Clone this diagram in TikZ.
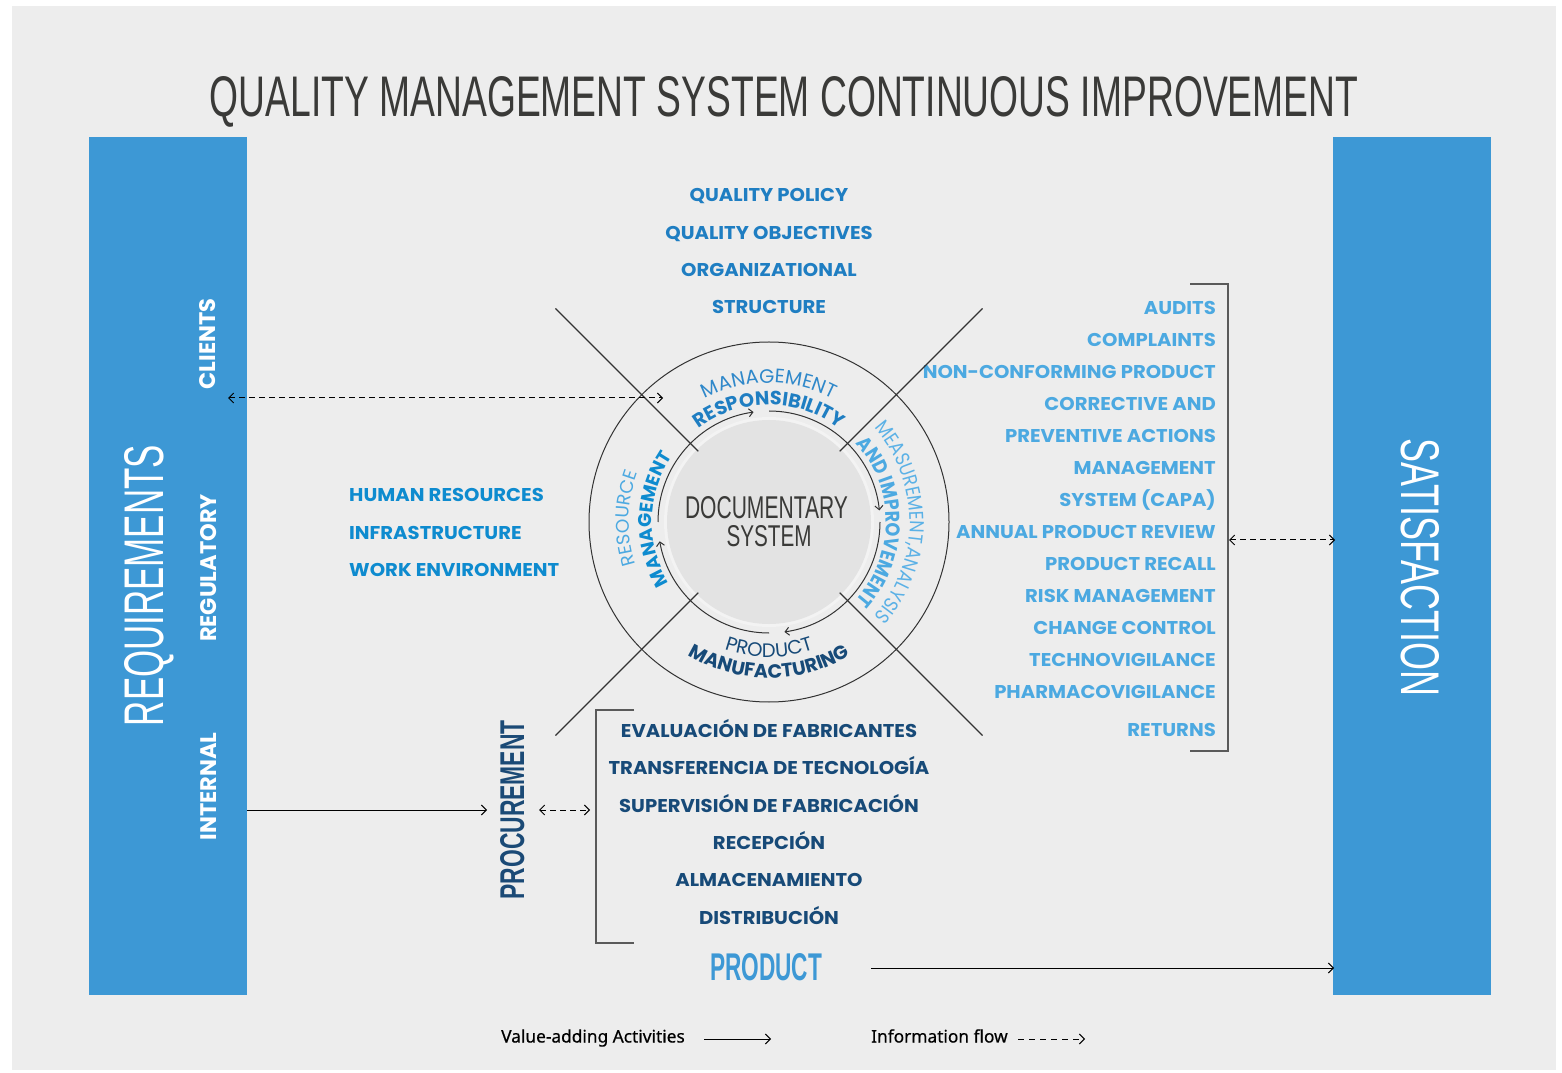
\documentclass[tikz,border=0pt]{standalone}
\usepackage{fontspec}
\usepackage{graphicx}
\usetikzlibrary{arrows.meta,decorations.text}
\setmainfont{Poppins}
\newfontfamily\mont{Poppins}
\newfontfamily\montw[FakeStretch=1.06]{Poppins}
\newfontfamily\montn[FakeStretch=0.88]{Poppins}
\newfontfamily\cond{Liberation Sans}
\newfontfamily\legendfont[FakeBold=0.6]{Noto Sans}
\definecolor{bggray}{HTML}{EDEDED}
\definecolor{barblue}{HTML}{3D98D5}
\definecolor{titlegray}{HTML}{3A3A38}
\definecolor{topblue}{HTML}{1F7EC2}
\definecolor{leftblue}{HTML}{0E8BCF}
\definecolor{rightblue}{HTML}{4CA9E1}
\definecolor{darkblue}{HTML}{174A78}
\definecolor{procblue}{HTML}{1B4A76}
\definecolor{linegray}{HTML}{333333}
\definecolor{bracketgray}{HTML}{5A5A5A}
\definecolor{diskgray}{HTML}{E3E3E3}
\definecolor{halogray}{HTML}{F3F3F3}
\definecolor{mgmtthin}{HTML}{2F88CA}
\definecolor{rightthin}{HTML}{5BB1E6}
\newcommand\cthin{\mont\fontsize{19.5}{20}\selectfont}
\newcommand\cbold{\mont\bfseries\fontsize{19.2}{20}\selectfont}
\newcommand\rthin{\montn\fontsize{20}{20}\selectfont}
\newcommand\rbold{\montn\bfseries\fontsize{20}{20}\selectfont}
\newcommand\lthin{\mont\fontsize{18.5}{20}\selectfont}
\newcommand\lbold{\mont\bfseries\fontsize{18.5}{20}\selectfont}
\begin{document}
\begin{tikzpicture}[x=1pt,y=1pt,
  lst/.style={font=\montw\bfseries\fontsize{18.5}{22}\selectfont, inner sep=0pt},
  toplist/.style={lst, text=topblue, anchor=base},
  leftlist/.style={lst, text=leftblue, anchor=base west},
  rightlist/.style={lst, text=rightblue, anchor=base east},
  botlist/.style={lst, text=darkblue, anchor=base},
  side/.style={font=\mont\bfseries\fontsize{22.5}{24}\selectfont, text=white, rotate=90, anchor=base, inner sep=0pt},
  bigcond/.style={inner sep=0pt, anchor=base},
  bar/.style={fill=barblue, minimum width=158pt, inner sep=0pt, minimum height=858pt},
  solidarr/.style={draw=black, line width=1pt, -{Straight Barb[length=5pt,width=10pt]}},
  dasharr/.style={draw=black, line width=1pt, dash pattern=on 6pt off 4pt, {Straight Barb[length=5pt,width=10pt]}-{Straight Barb[length=5pt,width=10pt]}},
  legdash/.style={draw=black, line width=1pt, dash pattern=on 6pt off 5pt, -{Straight Barb[length=5pt,width=10pt]}},
  circarr/.style={draw=linegray, line width=1pt, -{Straight Barb[length=4pt,width=8pt]}},
  diag/.style={draw=linegray, line width=1.1pt},
  bracket/.style={draw=bracketgray, line width=1.4pt},
  legtext/.style={font=\legendfont\fontsize{17.3}{20}\selectfont, text=black, anchor=base west, inner sep=0pt}
]
\useasboundingbox (0,0) rectangle (1562,1072);
\fill[white] (0,0) rectangle (1562,1072);
\fill[bggray] (12,2) rectangle (1556,1066);

% title
\node[bigcond, text=titlegray] (title) at (784,955) {\resizebox{1148pt}{40pt}{\cond QUALITY MANAGEMENT SYSTEM CONTINUOUS IMPROVEMENT}};

% side bars
\node[bar] (lbar) at (168,506) {};
\node[bar] (rbar) at (1412,506) {};
\node[bigcond, rotate=90, text=white] (req) at (163,486.5) {\resizebox{281pt}{39pt}{\cond REQUIREMENTS}};
\node[bigcond, rotate=-90, text=white] (sat) at (1401,504.5) {\resizebox{257pt}{38pt}{\cond SATISFACTION}};
\node[side] (clients) at (215.5,728) {CLIENTS};
\node[side] (regul) at (216,504) {REGULATORY};
\node[side] (internal) at (216,285.5) {INTERNAL};

% top list
\node[toplist] (t1) at (769,870.5) {QUALITY POLICY};
\node[toplist] (t2) at (769,832.5) {QUALITY OBJECTIVES};
\node[toplist] (t3) at (769,795.5) {ORGANIZATIONAL};
\node[toplist] (t4) at (769,758.5) {STRUCTURE};

% left list
\node[leftlist] (l1) at (349,570.5) {HUMAN RESOURCES};
\node[leftlist] (l2) at (349,532.5) {INFRASTRUCTURE};
\node[leftlist] (l3) at (349,495.5) {WORK ENVIRONMENT};

% right list
\node[rightlist] (r1) at (1216,757.5) {AUDITS};
\node[rightlist] (r2) at (1216,725.5) {COMPLAINTS};
\node[rightlist] (r3) at (1216,693.5) {NON-CONFORMING PRODUCT};
\node[rightlist] (r4) at (1216,661.5) {CORRECTIVE AND};
\node[rightlist] (r5) at (1216,629.5) {PREVENTIVE ACTIONS};
\node[rightlist] (r6) at (1216,597.5) {MANAGEMENT};
\node[rightlist] (r7) at (1216,565.5) {SYSTEM (CAPA)};
\node[rightlist] (r8) at (1216,533.5) {ANNUAL PRODUCT REVIEW};
\node[rightlist] (r9) at (1216,501.5) {PRODUCT RECALL};
\node[rightlist] (r10) at (1216,469.5) {RISK MANAGEMENT};
\node[rightlist] (r11) at (1216,437.5) {CHANGE CONTROL};
\node[rightlist] (r12) at (1216,405.5) {TECHNOVIGILANCE};
\node[rightlist] (r13) at (1216,373.5) {PHARMACOVIGILANCE};
\node[rightlist] (r14) at (1216,335.5) {RETURNS};
\draw[bracket] (1190,788) -- (1228,788) -- (1228,321) -- (1190,321);

% bottom list
\node[botlist] (b1) at (769,334.5) {EVALUACIÓN DE FABRICANTES};
\node[botlist] (b2) at (769,297.5) {TRANSFERENCIA DE TECNOLOGÍA};
\node[botlist] (b3) at (769,259.5) {SUPERVISIÓN DE FABRICACIÓN};
\node[botlist] (b4) at (769,222.5) {RECEPCIÓN};
\node[botlist] (b5) at (769,185.5) {ALMACENAMIENTO};
\node[botlist] (b6) at (769,147.5) {DISTRIBUCIÓN};
\draw[bracket] (634,362) -- (596,362) -- (596,129) -- (634,129);

\node[bigcond, rotate=90, text=procblue] (proc) at (524,262) {\resizebox{179pt}{24pt}{\cond\bfseries PROCUREMENT}};
\node[bigcond, text=barblue] (product) at (766,92) {\resizebox{112pt}{27pt}{\cond\bfseries PRODUCT}};

% circle
\coordinate (C) at (769,550);
\node[circle, draw=linegray, line width=1pt, minimum size=360pt, inner sep=0pt] (outer) at (C) {};
\fill[halogray] (C) circle[radius=105pt];
\node[circle, fill=diskgray, minimum size=204pt, inner sep=0pt] (disk) at (C) {};
\node[bigcond, text=titlegray] (doc1) at (766.5,553) {\resizebox{163pt}{22pt}{\cond DOCUMENTARY}};
\node[bigcond, text=titlegray] (doc2) at (769,525) {\resizebox{85pt}{21pt}{\cond SYSTEM}};

\foreach \a in {45,135,225,315}
  \draw[diag] ([shift={(\a:100pt)}]C) -- ([shift={(\a:302pt)}]C);

\draw[circarr] ([shift={(180:111pt)}]C) arc[start angle=180, end angle=98, radius=111pt];
\draw[circarr] ([shift={(90:111pt)}]C) arc[start angle=90, end angle=6, radius=111pt];
\draw[circarr] ([shift={(0:111pt)}]C) arc[start angle=0, end angle=-82, radius=111pt];
\draw[circarr] ([shift={(-90:111pt)}]C) arc[start angle=-90, end angle=-170, radius=111pt];

% curved labels
\path[decorate, decoration={text along path, text align=center, text={|\cthin\color{mgmtthin}|MANAGEMENT}}]
  ([shift={(150:139pt)}]C) arc[start angle=150, end angle=30, radius=139pt];
\path[decorate, decoration={text along path, text align=center, text={|\cbold\color{topblue}|RESPONSIBILITY}}]
  ([shift={(150:117pt)}]C) arc[start angle=150, end angle=30, radius=117pt];
\path[decorate, decoration={text along path, text align=center, text={|\rthin\color{rightthin}|MEASUREMENT,ANALYSIS}}]
  ([shift={(60:141pt)}]C) arc[start angle=60, end angle=-60, radius=141pt];
\path[decorate, decoration={text along path, text align=center, text={|\rbold\color{rightblue}|AND IMPROVEMENT}}]
  ([shift={(60:117pt)}]C) arc[start angle=60, end angle=-60, radius=117pt];
\path[decorate, decoration={text along path, text align=center, text={|\lthin\color{rightblue}|RESOURCE}}]
  ([shift={(238.5:140pt)}]C) arc[start angle=238.5, end angle=118.5, radius=140pt];
\path[decorate, decoration={text along path, text align=center, text={|\lbold\color{leftblue}|MANAGEMENT}}]
  ([shift={(238.5:117pt)}]C) arc[start angle=238.5, end angle=118.5, radius=117pt];
\path[decorate, decoration={text along path, text align=center, text={|\cthin\color{darkblue}|PRODUCT}}]
  ([shift={(-150:135pt)}]C) arc[start angle=-150, end angle=-30, radius=135pt];
\path[decorate, decoration={text along path, text align=center, text={|\cbold\color{darkblue}|MANUFACTURING}}]
  ([shift={(-150:156pt)}]C) arc[start angle=-150, end angle=-30, radius=156pt];

% connectors
\coordinate (clL) at (228,674);
\coordinate (clR) at (663,674);
\draw[dasharr] (clL) -- (clR);
\coordinate (capaL) at (1229,532);
\coordinate (capaR) at (1335,532);
\draw[dasharr] (capaL) -- (capaR);
\coordinate (intS) at (247,262);
\coordinate (intE) at (487,262);
\draw[solidarr] (intS) -- (intE);
\coordinate (prL) at (539,262);
\coordinate (prR) at (590,262);
\draw[dasharr] (prL) -- (prR);
\coordinate (pdS) at (871,104);
\coordinate (pdE) at (1334,104);
\draw[solidarr] (pdS) -- (pdE);

% legend
\node[legtext] (leg1) at (501,29.5) {Value-adding Activities};
\node[legtext] (leg2) at (871,29.5) {Information flow};
\coordinate (lg1S) at (704,33);
\coordinate (lg1E) at (771,33);
\draw[solidarr] (lg1S) -- (lg1E);
\coordinate (lg2S) at (1018,33);
\coordinate (lg2E) at (1085,33);
\draw[legdash] (lg2S) -- (lg2E);
\end{tikzpicture}
\end{document}
